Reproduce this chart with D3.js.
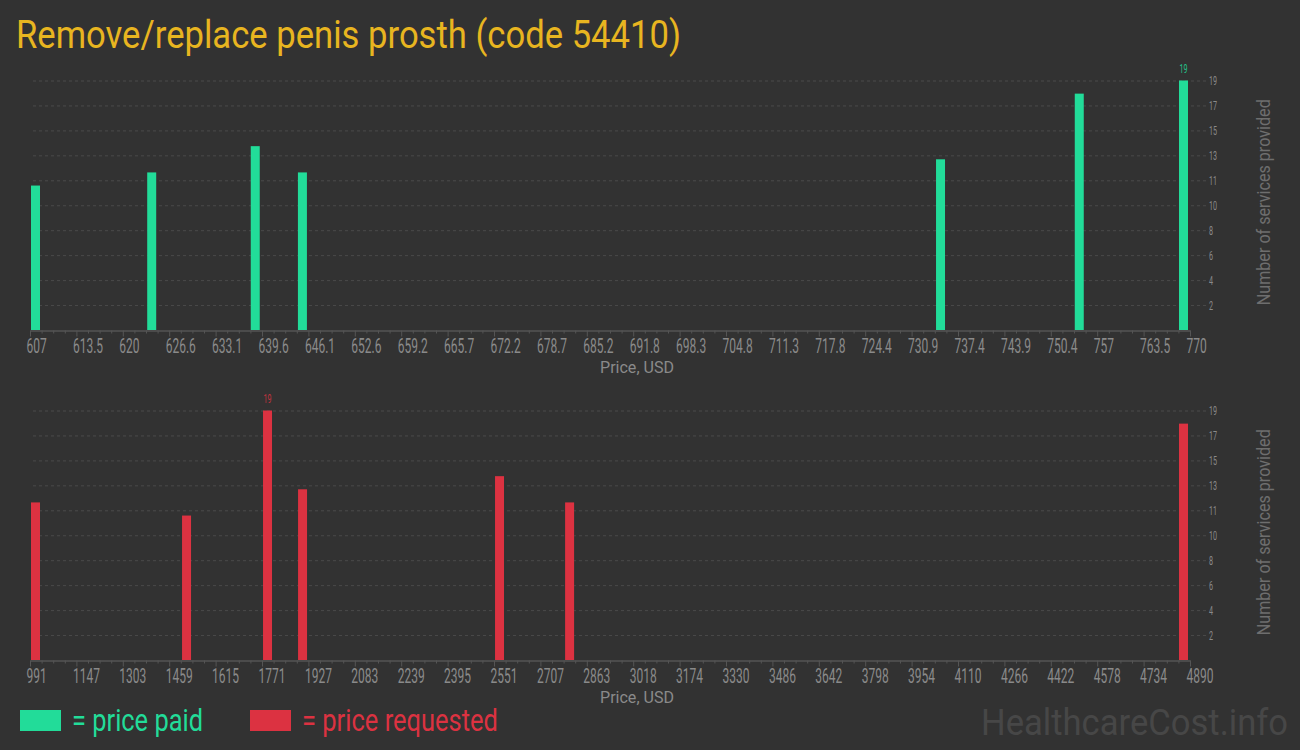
<!DOCTYPE html>
<html>
<head>
<meta charset="utf-8">
<script src="https://cdn.jsdelivr.net/npm/d3@7"></script>
<style>
  html, body { margin: 0; padding: 0; background: #323232; }
  svg { display: block; }
</style>
</head>
<body>
<svg id="chart" width="1300" height="750"></svg>
<script>
// ---------------- DATA ----------------
const titleText = "Remove/replace penis prosth (code 54410)";
const paidPrices = [607, 623.5, 638.2, 644.9, 735.5, 755.2, 770];
const paidCounts = [11, 12, 14, 12, 13, 18, 19];
const requestedPrices = [991, 1504, 1779, 1898, 2567, 2805, 4890];
const requestedCounts = [12, 11, 19, 13, 14, 12, 18];
const paidDomain = [607, 770];
const requestedDomain = [991, 4890];
const paidTickLabels = ["607","613.5","620","626.6","633.1","639.6","646.1","652.6","659.2","665.7","672.2","678.7","685.2","691.8","698.3","704.8","711.3","717.8","724.4","730.9","737.4","743.9","750.4","757","763.5","770"];
const requestedTickLabels = ["991","1147","1303","1459","1615","1771","1927","2083","2239","2395","2551","2707","2863","3018","3174","3330","3486","3642","3798","3954","4110","4266","4422","4578","4734","4890"];
const yTickLabels = ["2","4","6","8","10","11","13","15","17","19"];
const yMax = 19;
const xAxisTitle = "Price, USD";
const yAxisTitle = "Number of services provided";
const legendLabels = ["= price paid", "= price requested"];
const watermark = "HealthcareCost.info";

// ---------------- STYLE ----------------
const BG = "#323232";
const GREEN = "#22dc99";
const RED = "#dc3241";
const GOLD = "#e8b520";
const TICK_COLOR = "#8a8a8a";
const GRID = "#4a4a4a";
const AXIS = "#555555";
const SX = 0.6; // horizontal condensation of tick font

const svg = d3.select("#chart");
svg.append("rect").attr("width", 1300).attr("height", 750).attr("fill", BG);

// Title
svg.append("text")
  .attr("x", 16).attr("y", 48)
  .attr("font-family", "Roboto").attr("font-size", 39)
  .attr("fill", GOLD)
  .attr("textLength", 665).attr("lengthAdjust", "spacingAndGlyphs")
  .text(titleText);

function drawPanel(cfg) {
  const { prices, counts, domain, labels, color, baseY, topY } = cfg;
  const x0 = 30, x1 = 1190;
  const x = d3.scaleLinear().domain(domain).range([x0, x1]);
  const xBar = d3.scaleLinear().domain(domain).range([31, 1179]);
  const y = d3.scaleLinear().domain([0, yMax]).range([baseY, topY]);
  const n = labels.length - 1;
  const majorVals = d3.range(n + 1).map(i => domain[0] + (domain[1] - domain[0]) * i / n);
  const minorVals = d3.range(n * 4 + 1).filter(i => i % 4 !== 0).map(i => domain[0] + (domain[1] - domain[0]) * i / (n * 4));
  const yVals = d3.range(1, 11).map(i => yMax * i / 10);

  const g = svg.append("g");

  // gridlines + right axis
  const yAxis = d3.axisRight(y).tickValues(yVals)
    .tickFormat((d, i) => yTickLabels[i])
    .tickSize(-(1206 - 32)).tickPadding(3);
  const gy = g.append("g").attr("transform", `translate(1206,0)`).call(yAxis);
  gy.select(".domain").remove();
  gy.selectAll(".tick line").attr("stroke", GRID).attr("stroke-dasharray", "3,3");
  gy.selectAll(".tick text")
    .attr("fill", TICK_COLOR).attr("font-family", "Roboto").attr("font-size", 13)
    .attr("x", 3 / 0.55).attr("transform", "scale(0.55,1)");

  // bars
  g.selectAll("rect.bar").data(prices).enter().append("rect")
    .attr("class", "bar")
    .attr("x", d => xBar(d))
    .attr("width", 9)
    .attr("y", (d, i) => y(counts[i]))
    .attr("height", (d, i) => baseY - y(counts[i]))
    .attr("fill", color);

  // max label
  const mi = d3.maxIndex(counts);
  g.append("text")
    .attr("transform", `translate(${xBar(prices[mi]) + 4.5},${y(counts[mi]) - 8}) scale(0.55,1)`)
    .attr("text-anchor", "middle")
    .attr("font-family", "Roboto").attr("font-size", 13)
    .attr("fill", color).attr("opacity", 0.85)
    .text(counts[mi]);

  // minor ticks
  const gm = g.append("g").attr("transform", `translate(0,${baseY + 0.5})`)
    .call(d3.axisBottom(x).tickValues(minorVals).tickSize(3).tickFormat(""));
  gm.select(".domain").remove();
  gm.selectAll(".tick line").attr("stroke", AXIS);

  // major axis
  const gx = g.append("g").attr("transform", `translate(0,${baseY + 0.5})`)
    .call(d3.axisBottom(x).tickValues(majorVals).tickSize(6).tickSizeOuter(0).tickPadding(2)
      .tickFormat((d, i) => labels[i]));
  gx.select(".domain").attr("stroke", AXIS).attr("stroke-width", 1.5);
  gx.selectAll(".tick line").attr("stroke", AXIS);
  gx.selectAll(".tick text")
    .attr("fill", TICK_COLOR).attr("font-family", "Roboto").attr("font-size", 20)
    .attr("text-anchor", "start")
    .attr("x", -4 / SX).attr("transform", `scale(${SX},1)`);

  // x title
  g.append("text")
    .attr("x", 637).attr("y", baseY + 43)
    .attr("text-anchor", "middle")
    .attr("font-family", "Roboto").attr("font-size", 16)
    .attr("fill", TICK_COLOR)
    .attr("textLength", 74).attr("lengthAdjust", "spacingAndGlyphs")
    .text(xAxisTitle);

  // y title
  g.append("text")
    .attr("transform", `translate(1270,${(baseY + topY) / 2 - 3}) rotate(-90)`)
    .attr("text-anchor", "middle")
    .attr("font-family", "Roboto").attr("font-size", 19)
    .attr("fill", "#6e6e6e")
    .attr("textLength", 206).attr("lengthAdjust", "spacingAndGlyphs")
    .text(yAxisTitle);
}

drawPanel({ prices: paidPrices, counts: paidCounts, domain: paidDomain, labels: paidTickLabels,
  color: GREEN, baseY: 330, topY: 80.5 });
drawPanel({ prices: requestedPrices, counts: requestedCounts, domain: requestedDomain, labels: requestedTickLabels,
  color: RED, baseY: 660, topY: 410.5 });

// Legend
const legend = svg.append("g");
legend.append("rect").attr("x", 20).attr("y", 710).attr("width", 41).attr("height", 21).attr("fill", GREEN);
legend.append("text").attr("x", 72).attr("y", 731)
  .attr("font-family", "Roboto").attr("font-size", 31).attr("fill", GREEN)
  .attr("textLength", 131).attr("lengthAdjust", "spacingAndGlyphs")
  .text(legendLabels[0]);
legend.append("rect").attr("x", 250).attr("y", 710).attr("width", 41).attr("height", 21).attr("fill", RED);
legend.append("text").attr("x", 302).attr("y", 731)
  .attr("font-family", "Roboto").attr("font-size", 31).attr("fill", RED)
  .attr("textLength", 196).attr("lengthAdjust", "spacingAndGlyphs")
  .text(legendLabels[1]);

// Watermark
svg.append("text").attr("x", 981).attr("y", 735)
  .attr("font-family", "Roboto").attr("font-size", 36).attr("fill", "#474747")
  .attr("textLength", 307).attr("lengthAdjust", "spacingAndGlyphs")
  .text(watermark);
</script>
</body>
</html>
